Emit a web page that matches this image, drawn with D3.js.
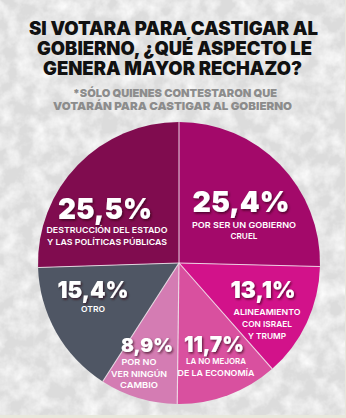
<!DOCTYPE html>
<html><head><meta charset="utf-8">
<script src="https://cdn.jsdelivr.net/npm/d3@7"></script>
<style>html,body{margin:0;padding:0;background:#e4e4e4;}svg{display:block;}</style>
</head><body>
<svg id="c" width="346" height="418"></svg>
<script>
const titleLines = ["SI VOTARA PARA CASTIGAR AL", "GOBIERNO, ¿QUÉ ASPECTO LE", "GENERA MAYOR RECHAZO?"];
const subtitleLines = ["*SÓLO QUIENES CONTESTARON QUE", "VOTARÁN PARA CASTIGAR AL GOBIERNO"];
const categories = [
  ["DESTRUCCIÓN DEL ESTADO", "Y LAS POLÍTICAS PÚBLICAS"],
  ["POR SER UN GOBIERNO", "CRUEL"],
  ["ALINEAMIENTO", "CON ISRAEL", "Y TRUMP"],
  ["LA NO MEJORA", "DE LA ECONOMÍA"],
  ["POR NO", "VER NINGÚN", "CAMBIO"],
  ["OTRO"]
];
const values = [25.5, 25.4, 13.1, 11.7, 8.9, 15.4];
const colors = ["#800c4f", "#a3096a", "#d2128a", "#d9509f", "#d47cb3", "#4f5664"];

// label layout (offsets from pie centre, px)
const labelLayout = [
  {px: -74, py: -44, fs: 29, w: 94, lx: -72, ly: [-30, -18], lw: [121, 120]},
  {px: 62, py: -51, fs: 29, w: 97, lx: 65, ly: [-35, -24], lw: [104, 27]},
  {px: 84, py: 35, fs: 23, w: 65, lx: 88, ly: [52, 64, 76], lw: [67, 50, 38]},
  {px: 35, py: 89, fs: 22, w: 60, lx: 37, ly: [101, 113], lw: [60, 77]},
  {px: -32, py: 89, fs: 19, w: 52, lx: -40, ly: [102, 114, 125], lw: [35, 56, 38]},
  {px: -86, py: 35, fs: 23, w: 71, lx: -86, ly: [49], lw: [24]}
];

const W = 346, H = 418, cx = 179, cy = 263, R = 141;
const svg = d3.select("#c");
const defs = svg.append("defs");

// textured background
const tex = defs.append("filter").attr("id", "tex").attr("x", 0).attr("y", 0).attr("width", 1).attr("height", 1);
tex.append("feTurbulence").attr("type", "fractalNoise").attr("baseFrequency", 0.06).attr("numOctaves", 4).attr("seed", 7).attr("result", "n");
tex.append("feColorMatrix").attr("in", "n").attr("type", "matrix")
  .attr("values", "0 0 0 0 1  0 0 0 0 1  0 0 0 0 1  0 0 0 -1.6 1.05").attr("result", "w");
tex.append("feComposite").attr("in", "w").attr("in2", "SourceGraphic").attr("operator", "over");

const sh = defs.append("filter").attr("id", "sh").attr("x", "-20%").attr("y", "-20%").attr("width", "140%").attr("height", "150%");
sh.append("feDropShadow").attr("dx", 1.2).attr("dy", 1.5).attr("stdDeviation", 0.9).attr("flood-color", "#2a0018").attr("flood-opacity", 0.7);

svg.append("rect").attr("width", W).attr("height", H).attr("fill", "#dcdcdc").attr("filter", "url(#tex)");
svg.append("rect").attr("x", 0).attr("y", 415).attr("width", W).attr("height", 3).attr("fill", "#e8e8dc");
svg.append("rect").attr("x", 345).attr("y", 0).attr("width", 1).attr("height", H).attr("fill", "#e8e8dc");

// title
const titleBase = [35, 55, 75], titleW = [289, 275, 259], titleX = [173.5, 174.5, 172.5];
svg.selectAll("text.title").data(titleLines).join("text").attr("class", "title")
  .attr("x", (d, i) => titleX[i]).attr("y", (d, i) => titleBase[i])
  .attr("text-anchor", "middle").attr("font-family", "Inter, 'Open Sans', sans-serif")
  .attr("font-weight", 900).attr("font-size", 18.5).attr("fill", "#111")
  .attr("textLength", (d, i) => titleW[i]).attr("lengthAdjust", "spacingAndGlyphs")
  .text(d => d);

const subBase = [97, 110], subW = [204, 239], subX = [175, 172.5];
svg.selectAll("text.sub").data(subtitleLines).join("text").attr("class", "sub")
  .attr("x", (d, i) => subX[i]).attr("y", (d, i) => subBase[i])
  .attr("text-anchor", "middle").attr("font-family", "Inter, 'Open Sans', sans-serif")
  .attr("font-weight", 900).attr("font-size", 11).attr("fill", "#8c8c8c")
  .attr("textLength", (d, i) => subW[i]).attr("lengthAdjust", "spacingAndGlyphs")
  .text(d => d);

// pie
const total = d3.sum(values);
const pie = d3.pie().sort(null).value(d => d)
  .startAngle(-values[0] / total * 2 * Math.PI)
  .endAngle(-values[0] / total * 2 * Math.PI + 2 * Math.PI);
const arcs = pie(values);
const arc = d3.arc().innerRadius(0).outerRadius(R);
const g = svg.append("g").attr("transform", `translate(${cx},${cy})`);
g.selectAll("path").data(arcs).join("path").attr("d", arc).attr("fill", (d, i) => colors[i]);
g.selectAll("line.sep").data(arcs).join("line").attr("class", "sep")
  .attr("x1", 0).attr("y1", 0)
  .attr("x2", d => R * Math.sin(d.startAngle)).attr("y2", d => -R * Math.cos(d.startAngle))
  .attr("stroke", "#f3e6ee").attr("stroke-width", 1.1).attr("opacity", 0.85);

// labels
const fmt = v => v.toFixed(1).replace(".", ",") + "%";
arcs.forEach((a, i) => {
  const L = labelLayout[i];
  g.append("text").attr("x", L.px).attr("y", L.py).attr("text-anchor", "middle")
    .attr("font-family", "Inter, 'Open Sans', sans-serif").attr("font-weight", 900)
    .attr("font-size", L.fs).attr("fill", "#fff").attr("filter", "url(#sh)")
    .attr("textLength", L.w).attr("lengthAdjust", "spacingAndGlyphs")
    .text(fmt(a.data));
  categories[i].forEach((line, j) => {
    g.append("text").attr("x", L.lx).attr("y", L.ly[j]).attr("text-anchor", "middle")
      .attr("font-family", "Inter, 'Open Sans', sans-serif").attr("font-weight", 600)
      .attr("font-size", 8.2).attr("fill", "#fff")
      .attr("textLength", L.lw[j]).attr("lengthAdjust", "spacingAndGlyphs")
      .text(line);
  });
});
</script>
</body></html>
